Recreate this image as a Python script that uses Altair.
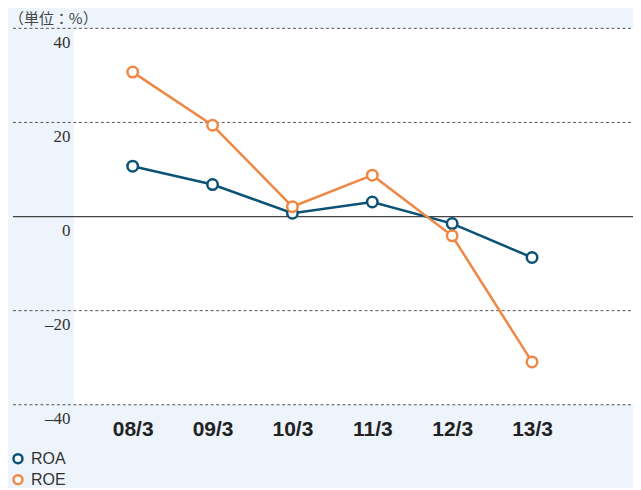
import altair as alt
import pandas as pd

months = ["08/3", "09/3", "10/3", "11/3", "12/3", "13/3"]
roa = [10.7, 6.8, 0.7, 3.1, -1.5, -8.7]
roe = [30.7, 19.4, 2.1, 8.8, -4.1, -30.9]
series = ["ROA", "ROE"]
colors = ["#0b5275", "#ef8745"]
grid_values = [40, 20, -20, -40]
tick_values = [-40, -20, 0, 20, 40]

rows = []
for name, vals in zip(series, [roa, roe]):
    for m, v in zip(months, vals):
        rows.append({"month": m, "series": name, "value": v})
df = pd.DataFrame(rows)
grid_df = pd.DataFrame({"value": grid_values})
zero_df = pd.DataFrame({"value": [0]})

W, H = 560, 377
yscale = alt.Scale(domain=[-40, 40], nice=False, zero=False)
yaxis = alt.Axis(
    title=None, domain=False, ticks=False, tickSize=0, grid=False,
    values=tick_values, labelFont="Liberation Serif", labelFontSize=17,
    labelColor="#333333", labelPadding=4, labelOffset=14,
    labelExpr="datum.value < 0 ? '–' + abs(datum.value) : datum.label",
)

grid = alt.Chart(grid_df).mark_rule(
    color="#555555", strokeWidth=1, strokeDash=[3, 2.5]
).encode(
    y=alt.Y("value:Q", scale=yscale, axis=yaxis),
    x=alt.value(-61),
    x2=alt.value(W),
)

zero = alt.Chart(zero_df).mark_rule(color="#444444", strokeWidth=1.3).encode(
    y=alt.Y("value:Q", scale=yscale, axis=yaxis),
    x=alt.value(-61),
    x2=alt.value(W),
)

lines = alt.Chart(df).mark_line(
    strokeWidth=2.5,
    point=alt.OverlayMarkDef(filled=False, fill="white", fillOpacity=1, size=110, strokeWidth=2.5),
).encode(
    x=alt.X(
        "month:N",
        sort=months,
        scale=alt.Scale(type="point", padding=1.026, align=0.368),
        axis=alt.Axis(
            title=None, domain=False, ticks=False, tickSize=0, labelAngle=0,
            labelFont="Liberation Sans", labelFontWeight="bold", labelFontSize=21,
            labelColor="#222222", labelPadding=14,
        ),
    ),
    y=alt.Y("value:Q", scale=yscale, axis=yaxis),
    color=alt.Color(
        "series:N",
        scale=alt.Scale(domain=series, range=colors),
        legend=alt.Legend(
            title=None, orient="none", legendX=-64, legendY=423,
            symbolType="circle", symbolFillColor="white", symbolStrokeWidth=2.5,
            symbolSize=80, labelFont="Liberation Sans", labelFontSize=16,
            labelColor="#333333", rowPadding=1, padding=0, labelOffset=5,
        ),
    ),
)

chart = alt.layer(grid, zero, lines).properties(
    width=W,
    height=H,
    padding={"left": 66, "top": 20, "right": 0, "bottom": 83},
    autosize=alt.AutoSizeParams(type="none"),
    background="#edf4fb",
    title=alt.TitleParams(
        "（単位：%）", anchor="start", frame="group", dx=-65, offset=1,
        font="Noto Sans CJK JP", fontSize=15, fontWeight="normal", color="#444444",
    ),
).configure_view(fill="white", stroke=None)

chart.save("out.html", embed_options={"renderer": "svg", "actions": False})
